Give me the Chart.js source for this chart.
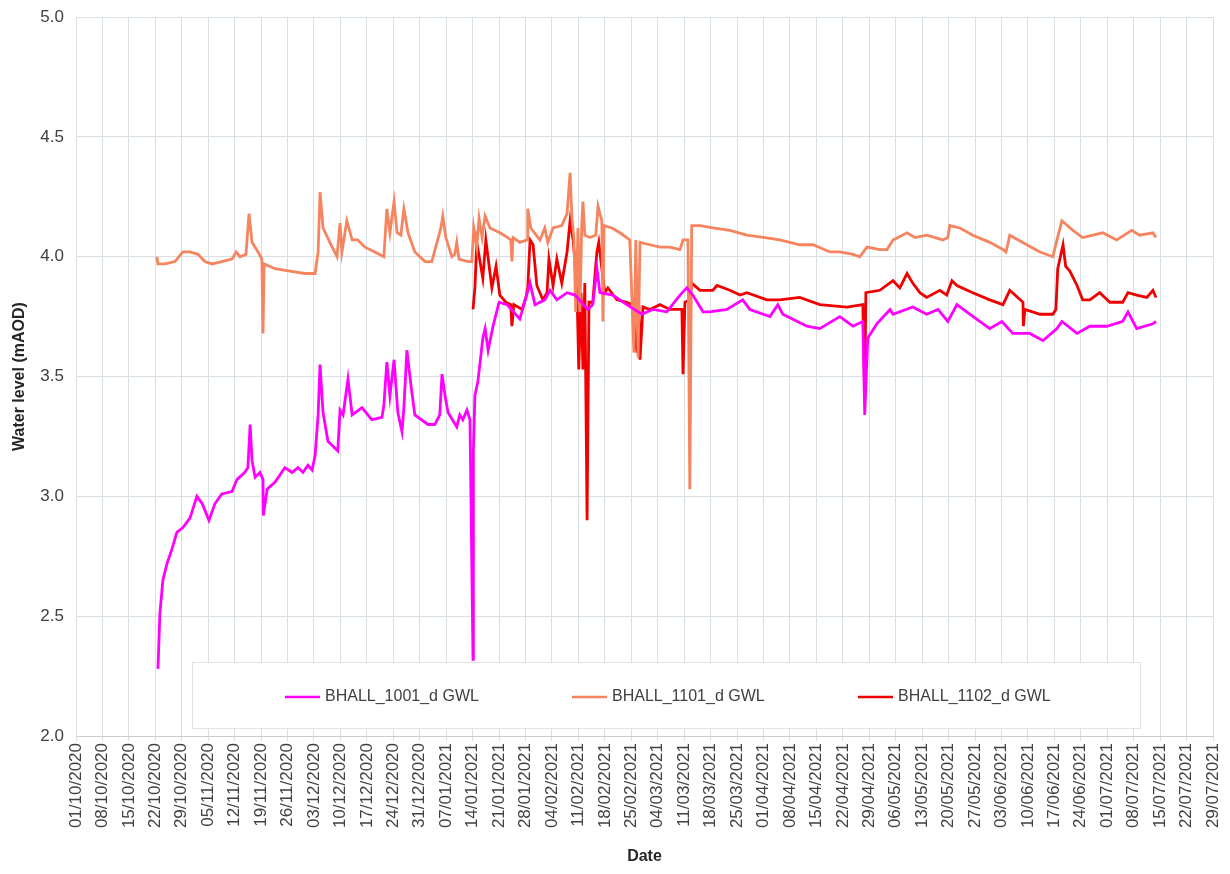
<!DOCTYPE html>
<html>
<head>
<meta charset="utf-8">
<script src="https://cdn.jsdelivr.net/npm/chart.js@4.4.1/dist/chart.umd.min.js"></script>
<style>
  html, body { margin: 0; padding: 0; background: #fff; }
</style>
</head>
<body>
<canvas id="levelChart" width="1230" height="874"></canvas>
<script>
// days counted from 01/10/2020
const startDate = Date.UTC(2020, 9, 1);
const seriesNames = ['BHALL_1001_d GWL', 'BHALL_1101_d GWL', 'BHALL_1102_d GWL'];

const days1001 = [
  21.7, 22.2, 23.0, 24.1, 25.4, 26.7, 28.3, 30.2, 32.0, 33.4,
  35.2, 36.8, 38.6, 41.3, 42.6, 44.7, 45.5, 46.1, 46.6, 47.4,
  48.7, 49.5, 49.6, 50.6, 52.7, 55.3, 57.2, 58.8, 60.1, 61.4,
  62.5, 63.3, 64.1, 64.6, 65.4, 66.7, 69.3, 69.9, 70.7, 72.0,
  73.1, 75.7, 78.3, 81.0, 81.5, 82.3, 83.1, 84.2, 85.2, 86.3,
  86.8, 87.6, 88.7, 89.7, 93.2, 95.0, 96.3, 96.9, 97.7, 98.5,
  100.8, 101.6, 102.4, 103.5, 104.3, 105.1, 105.2, 105.6, 106.4, 107.7,
  108.3, 109.1, 110.4, 112.0, 114.1, 117.5, 120.2, 121.5, 124.1, 125.5,
  127.3, 130.0, 132.1, 135.5, 136.8, 137.9, 138.7, 142.1, 145.8, 149.8,
  152.7, 156.4, 159.9, 161.7, 163.3, 166.0, 167.8, 172.3, 176.5, 178.4,
  183.7, 185.8, 187.1, 193.5, 196.9, 202.2, 205.7, 208.3, 208.8, 209.6,
  212.0, 215.5, 216.3, 221.5, 225.2, 228.2, 230.8, 233.2, 235.8, 241.9,
  245.1, 248.0, 252.5, 256.0, 259.7, 261.0, 265.0, 268.4, 272.9, 277.1,
  278.5, 280.8, 285.1, 285.9
];
const level1001 = [
  2.28, 2.51, 2.65, 2.72, 2.78, 2.85, 2.87, 2.91, 3.00, 2.97,
  2.90, 2.97, 3.01, 3.02, 3.07, 3.10, 3.12, 3.30, 3.15, 3.08,
  3.10, 3.07, 2.92, 3.03, 3.06, 3.12, 3.10, 3.12, 3.10, 3.13,
  3.11, 3.17, 3.34, 3.55, 3.35, 3.23, 3.19, 3.36, 3.34, 3.49,
  3.34, 3.37, 3.32, 3.33, 3.38, 3.56, 3.42, 3.57, 3.35, 3.27,
  3.37, 3.61, 3.46, 3.34, 3.30, 3.30, 3.34, 3.51, 3.42, 3.35,
  3.29, 3.34, 3.32, 3.36, 3.32, 2.32, 3.19, 3.42, 3.48, 3.66,
  3.70, 3.61, 3.71, 3.81, 3.80, 3.74, 3.89, 3.80, 3.82, 3.86,
  3.82, 3.85, 3.84, 3.78, 3.80, 3.95, 3.85, 3.84, 3.80, 3.76,
  3.78, 3.77, 3.84, 3.87, 3.84, 3.77, 3.77, 3.78, 3.82, 3.78,
  3.75, 3.80, 3.76, 3.71, 3.70, 3.75, 3.71, 3.73, 3.34, 3.66,
  3.72, 3.78, 3.76, 3.79, 3.76, 3.78, 3.73, 3.80, 3.77, 3.70,
  3.73, 3.68, 3.68, 3.65, 3.70, 3.73, 3.68, 3.71, 3.71, 3.73,
  3.77, 3.70, 3.72, 3.73
];

const days1101 = [
  21.4, 21.7, 23.6, 26.2, 28.3, 30.2, 32.3, 34.1, 36.0, 38.6,
  41.3, 42.4, 43.4, 45.0, 45.8, 46.6, 48.2, 49.2, 49.5, 49.8,
  52.7, 56.6, 60.6, 63.3, 64.1, 64.6, 65.4, 67.2, 69.1, 69.9,
  70.4, 71.7, 73.1, 74.6, 76.5, 79.1, 81.5, 82.3, 83.1, 84.2,
  85.0, 86.0, 86.8, 87.9, 89.7, 92.4, 94.2, 96.6, 97.1, 97.9,
  99.5, 100.3, 100.8, 101.4, 103.8, 104.8, 105.3, 106.1, 106.7, 107.5,
  108.3, 109.6, 112.2, 114.3, 115.1, 115.4, 115.7, 117.5, 119.4, 119.6,
  120.4, 122.8, 124.1, 124.9, 126.3, 128.6, 130.0, 130.8, 131.3, 131.8,
  132.3, 132.9, 133.4, 133.9, 134.2, 134.7, 136.1, 137.6, 138.2, 139.2,
  139.5, 139.8, 141.9, 144.0, 146.6, 147.7, 148.2, 148.8, 149.3, 151.9,
  154.6, 157.2, 159.9, 160.7, 162.0, 162.5, 163.0, 165.2, 168.6, 173.1,
  177.6, 182.4, 186.3, 191.6, 195.1, 199.6, 202.2, 205.7, 207.5, 209.4,
  212.8, 214.7, 216.3, 220.0, 222.1, 225.2, 229.5, 230.8, 231.3, 234.0,
  237.4, 241.9, 245.4, 246.2, 247.2, 251.7, 255.2, 258.6, 259.7, 261.0,
  263.9, 266.5, 269.2, 271.8, 275.5, 279.5, 281.6, 285.1, 285.9
];
const level1101 = [
  4.00, 3.97, 3.97, 3.98, 4.02, 4.02, 4.01, 3.98, 3.97, 3.98,
  3.99, 4.02, 4.00, 4.01, 4.18, 4.06, 4.02, 3.99, 3.68, 3.97,
  3.95, 3.94, 3.93, 3.93, 4.02, 4.27, 4.12, 4.06, 4.00, 4.14,
  4.02, 4.15, 4.07, 4.07, 4.04, 4.02, 4.00, 4.20, 4.10, 4.23,
  4.10, 4.09, 4.20, 4.10, 4.02, 3.98, 3.98, 4.12, 4.17, 4.08,
  4.00, 4.01, 4.06, 3.99, 3.98, 3.98, 4.12, 4.04, 4.16, 4.08,
  4.17, 4.12, 4.10, 4.08, 4.07, 3.98, 4.08, 4.06, 4.07, 4.20,
  4.12, 4.07, 4.12, 4.06, 4.12, 4.13, 4.18, 4.35, 4.16, 4.08,
  3.77, 4.12, 3.77, 4.14, 4.23, 4.09, 4.08, 4.09, 4.21, 4.15,
  3.73, 4.13, 4.12, 4.10, 4.07, 3.60, 4.07, 3.58, 4.06, 4.05,
  4.04, 4.04, 4.03, 4.07, 4.07, 3.03, 4.13, 4.13, 4.12, 4.11,
  4.09, 4.08, 4.07, 4.05, 4.05, 4.02, 4.02, 4.01, 4.00, 4.04,
  4.03, 4.03, 4.07, 4.10, 4.08, 4.09, 4.07, 4.08, 4.13, 4.12,
  4.09, 4.06, 4.03, 4.02, 4.09, 4.05, 4.02, 4.00, 4.07, 4.15,
  4.11, 4.08, 4.09, 4.10, 4.07, 4.11, 4.09, 4.10, 4.08
];

const days1102 = [
  105.1, 105.6, 106.1, 107.7, 108.5, 110.1, 111.2, 112.2, 113.8, 115.1,
  115.4, 115.9, 118.1, 119.1, 119.6, 120.2, 121.0, 122.0, 123.6, 124.7,
  125.2, 126.3, 127.3, 128.6, 130.0, 130.8, 131.6, 132.6, 133.1, 133.7,
  134.2, 134.7, 135.3, 135.8, 136.8, 137.9, 138.4, 139.5, 140.0, 140.8,
  143.2, 145.8, 147.2, 148.5, 149.0, 149.3, 150.1, 151.9, 154.6, 157.2,
  160.4, 160.7, 161.2, 162.5, 163.0, 165.2, 168.6, 169.7, 173.1, 175.8,
  177.6, 182.9, 186.3, 191.6, 196.9, 204.1, 208.3, 208.8, 209.1, 212.8,
  216.3, 218.1, 220.0, 221.5, 223.4, 225.2, 228.7, 230.5, 231.9, 233.2,
  237.4, 241.9, 245.4, 247.2, 249.3, 250.7, 250.8, 251.2, 255.2, 258.6,
  259.4, 259.9, 261.3, 262.0, 263.1, 265.0, 266.5, 268.4, 271.0, 273.7,
  277.1, 278.5, 280.8, 283.5, 285.1, 285.9
];
const level1102 = [
  3.78, 3.87, 4.06, 3.91, 4.07, 3.87, 3.96, 3.84, 3.81, 3.80,
  3.71, 3.80, 3.78, 3.83, 3.87, 4.07, 4.05, 3.88, 3.82, 3.85,
  3.99, 3.88, 3.99, 3.89, 4.02, 4.15, 4.07, 3.88, 3.53, 3.85,
  3.53, 3.89, 2.90, 3.81, 3.81, 4.02, 4.06, 3.91, 3.85, 3.87,
  3.82, 3.81, 3.80, 3.60, 3.80, 3.57, 3.79, 3.78, 3.80, 3.78,
  3.78, 3.51, 3.81, 3.82, 3.89, 3.86, 3.86, 3.88, 3.86, 3.84,
  3.85, 3.82, 3.82, 3.83, 3.80, 3.79, 3.80, 3.42, 3.85, 3.86,
  3.90, 3.87, 3.93, 3.89, 3.85, 3.83, 3.86, 3.84, 3.90, 3.88,
  3.85, 3.82, 3.80, 3.86, 3.83, 3.81, 3.71, 3.78, 3.76, 3.76,
  3.78, 3.95, 4.05, 3.96, 3.94, 3.88, 3.82, 3.82, 3.85, 3.81,
  3.81, 3.85, 3.84, 3.83, 3.86, 3.83
];

const colors = ['#FF00FF', '#F5845F', '#F00000'];
const FONT = "'Liberation Sans', Arial, sans-serif";
Chart.defaults.font.family = FONT;

function toPoints(days, levels) {
  return days.map((d, i) => ({ x: d, y: levels[i] }));
}

function pad(n) { return n < 10 ? '0' + n : '' + n; }
function dayLabel(v) {
  const d = new Date(startDate + v * 86400000);
  return pad(d.getUTCDate()) + '/' + pad(d.getUTCMonth() + 1) + '/' + d.getUTCFullYear();
}

// legend sits inside the plot, in a white box near the bottom
const boxLegend = {
  id: 'boxLegend',
  afterDatasetsDraw(chart) {
    const ctx = chart.ctx;
    const area = chart.chartArea;
    const x0 = area.left + 116, y0 = area.bottom - 74, w = 948, h = 66;
    ctx.save();
    ctx.fillStyle = '#fff';
    ctx.fillRect(x0, y0, w, h);
    ctx.strokeStyle = '#E3E3E3';
    ctx.lineWidth = 1;
    ctx.strokeRect(x0 + 0.5, y0 + 0.5, w, h);
    const starts = [93, 380, 666];
    const cy = y0 + 35;
    ctx.font = '16px ' + FONT;
    ctx.textBaseline = 'middle';
    chart.data.datasets.forEach((ds, i) => {
      const sx = x0 + starts[i];
      ctx.strokeStyle = ds.borderColor;
      ctx.lineWidth = 2.5;
      ctx.beginPath();
      ctx.moveTo(sx, cy);
      ctx.lineTo(sx + 35, cy);
      ctx.stroke();
      ctx.fillStyle = '#404040';
      ctx.fillText(ds.label, sx + 40, cy);
    });
    ctx.restore();
  }
};

new Chart(document.getElementById('levelChart'), {
  type: 'line',
  data: {
    datasets: [
      { label: seriesNames[0], data: toPoints(days1001, level1001), borderColor: colors[0] },
      { label: seriesNames[1], data: toPoints(days1101, level1101), borderColor: colors[1] },
      { label: seriesNames[2], data: toPoints(days1102, level1102), borderColor: colors[2] }
    ]
  },
  options: {
    responsive: false,
    animation: false,
    layout: { padding: { top: 10, right: 17, left: 0, bottom: 0 } },
    elements: {
      point: { radius: 0 },
      line: { borderWidth: 2.8, tension: 0, fill: false }
    },
    plugins: {
      legend: { display: false },
      tooltip: { enabled: false }
    },
    scales: {
      x: {
        type: 'linear',
        min: 0,
        max: 301,
        ticks: {
          stepSize: 7,
          autoSkip: false,
          minRotation: 90,
          maxRotation: 90,
          padding: 2,
          color: '#404040',
          font: { size: 17, lineHeight: 0.6 },
          callback: dayLabel
        },
        grid: { color: '#D8DFE7', tickLength: 5 },
        border: { color: '#C8CDD4' },
        title: {
          display: true,
          text: 'Date',
          color: '#262626',
          font: { size: 16, weight: 'bold' },
          padding: { top: 4, bottom: 8 }
        },
        afterFit(scale) { scale.height = 138; }
      },
      y: {
        min: 2,
        max: 5,
        ticks: {
          stepSize: 0.5,
          padding: 12,
          color: '#404040',
          font: { size: 17, lineHeight: 0.6 },
          callback: v => v.toFixed(1)
        },
        grid: { color: '#D8DFE7', drawTicks: false },
        border: { color: '#D8DFE7' },
        title: {
          display: true,
          text: 'Water level (mAOD)',
          color: '#262626',
          font: { size: 16, weight: 'bold' },
          padding: { top: 10, bottom: 4 }
        },
        afterFit(scale) { scale.width = 76; }
      }
    }
  },
  plugins: [boxLegend]
});
</script>
</body>
</html>
